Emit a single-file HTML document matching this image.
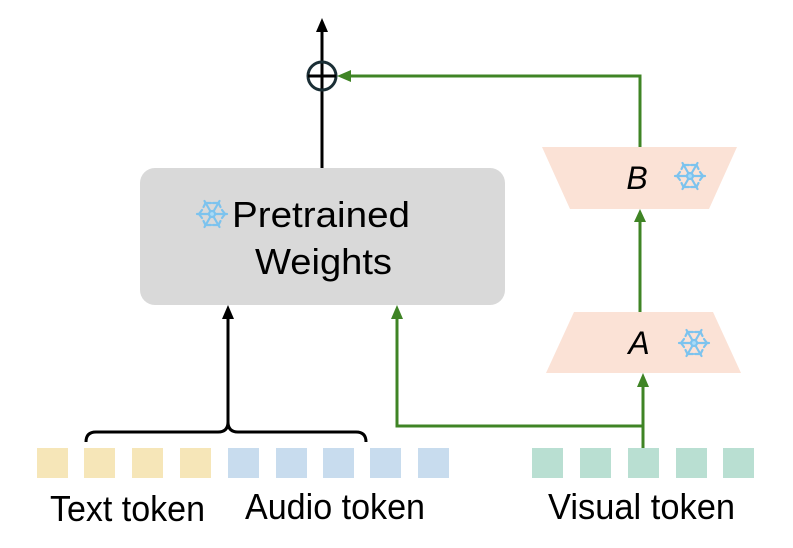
<!DOCTYPE html>
<html><head><meta charset="utf-8"><style>
html,body{margin:0;padding:0;background:#fff;}
svg{display:block;}
text{font-family:"Liberation Sans",Arial,sans-serif;}
</style></head><body>
<svg width="793" height="548" viewBox="0 0 793 548" xmlns="http://www.w3.org/2000/svg">
<defs>
<g id="sf" stroke="#7cc3ee" stroke-width="2.2" stroke-linecap="round" fill="none">
<line x1="-15" y1="0" x2="15" y2="0"/><line x1="-7.5" y1="-13" x2="7.5" y2="13"/><line x1="-7.5" y1="13" x2="7.5" y2="-13"/>
<path d="M10 -4 L13 0 L10 4 M-10 -4 L-13 0 L-10 4 M1 -11 L6.5 -11 L8.5 -7 M-1 11 L-6.5 11 L-8.5 7 M-1 -11 L-6.5 -11 L-8.5 -7 M1 11 L6.5 11 L8.5 7"/>
<circle cx="0" cy="0" r="3" fill="#a9dbf7" stroke="#7cc3ee"/>
</g>
</defs>
<rect x="140" y="168" width="365" height="137" rx="15" fill="#d9d9d9"/>
<use href="#sf" transform="translate(212,214)"/>
<text x="232" y="227" font-size="36" textLength="178" lengthAdjust="spacingAndGlyphs" fill="#000">Pretrained</text>
<text x="255" y="274" font-size="36" textLength="137" lengthAdjust="spacingAndGlyphs" fill="#000">Weights</text>
<line x1="322" y1="168" x2="322" y2="30" stroke="#000" stroke-width="3"/>
<path d="M316 32 L322 18 L328 32 Z" fill="#000"/>
<circle cx="322" cy="76" r="14" fill="none" stroke="#1a2e35" stroke-width="3"/>
<line x1="308" y1="76" x2="336" y2="76" stroke="#000" stroke-width="3"/>
<polyline points="640,147 640,76 350,76" fill="none" stroke="#3f8425" stroke-width="3"/>
<path d="M337 76 L351 70 L351 82 Z" fill="#3f8425"/>
<polygon points="542,147 737,147 709,209 570,209" fill="#fbe2d6"/>
<text x="637" y="189" font-size="32" font-style="italic" text-anchor="middle">B</text>
<use href="#sf" transform="translate(690,176)"/>
<polygon points="574,312 713,312 741,373 546,373" fill="#fbe2d6"/>
<text x="639" y="354" font-size="32" font-style="italic" text-anchor="middle">A</text>
<use href="#sf" transform="translate(694,343)"/>
<line x1="640" y1="312" x2="640" y2="222" stroke="#3f8425" stroke-width="3"/>
<path d="M634 222 L640 209 L646 222 Z" fill="#3f8425"/>
<line x1="643" y1="448" x2="643" y2="386" stroke="#3f8425" stroke-width="3"/>
<path d="M637 387 L643 373 L649 387 Z" fill="#3f8425"/>
<polyline points="643,426 397,426 397,318" fill="none" stroke="#3f8425" stroke-width="3"/>
<path d="M391 319 L397 305 L403 319 Z" fill="#3f8425"/>
<path d="M86 442 Q86 432 96 432 L218 432 Q228 432 228 422 Q228 432 238 432 L356 432 Q366 432 366 442" fill="none" stroke="#000" stroke-width="3"/>
<line x1="228" y1="424" x2="228" y2="318" stroke="#000" stroke-width="3"/>
<path d="M222 319 L228 305 L234 319 Z" fill="#000"/>
<g fill="#f6e6b8">
<rect x="37" y="448" width="31" height="30"/><rect x="84" y="448" width="31" height="30"/><rect x="132" y="448" width="31" height="30"/><rect x="180" y="448" width="31" height="30"/>
</g>
<g fill="#c8dcee">
<rect x="228" y="448" width="31" height="30"/><rect x="276" y="448" width="31" height="30"/><rect x="323" y="448" width="31" height="30"/><rect x="370" y="448" width="31" height="30"/><rect x="418" y="448" width="31" height="30"/>
</g>
<g fill="#b9dfd2">
<rect x="532" y="448" width="31" height="30"/><rect x="580" y="448" width="31" height="30"/><rect x="628" y="448" width="31" height="30"/><rect x="676" y="448" width="31" height="30"/><rect x="723" y="448" width="31" height="30"/>
</g>
<text x="50" y="521" font-size="36" textLength="155" lengthAdjust="spacingAndGlyphs">Text token</text>
<text x="245" y="519" font-size="36" textLength="180" lengthAdjust="spacingAndGlyphs">Audio token</text>
<text x="548" y="519" font-size="36" textLength="187" lengthAdjust="spacingAndGlyphs">Visual token</text>
</svg>
</body></html>
